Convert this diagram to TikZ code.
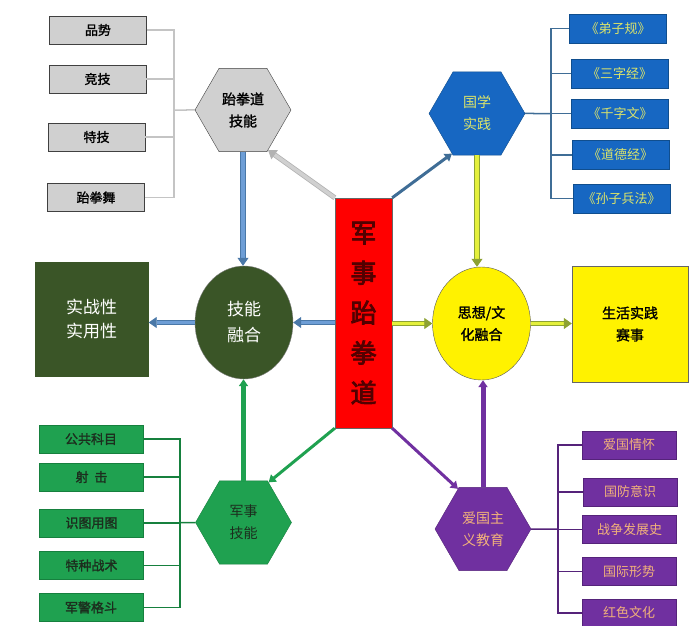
\documentclass[tikz,border=0pt]{standalone}
\usepackage{fontspec}
\setmainfont{Noto Sans CJK SC}[AutoFakeBold=1.6]
\newfontfamily\epais{Noto Sans CJK SC}[FakeBold=3]
\usetikzlibrary{shapes.geometric,arrows.meta}
\definecolor{grisboite}{HTML}{D0D0D0}
\definecolor{grislien}{HTML}{C4C4C4}
\definecolor{bleuhex}{HTML}{1767C2}
\definecolor{bleubord}{HTML}{104E8E}
\definecolor{bleutexte}{HTML}{DCE46A}
\definecolor{bleulien}{HTML}{3F6D96}
\definecolor{vertfonce}{HTML}{3A5527}
\definecolor{vert}{HTML}{1FA150}
\definecolor{vertbord}{HTML}{16803E}
\definecolor{verttexte}{HTML}{1C2E1E}
\definecolor{violet}{HTML}{7030A0}
\definecolor{violetbord}{HTML}{55237A}
\definecolor{violettexte}{HTML}{F2B27A}
\definecolor{acier}{HTML}{6E9ED6}
\definecolor{acierbord}{HTML}{4A78A8}
\definecolor{jaunefleche}{HTML}{E4F03C}
\definecolor{jaunebord}{HTML}{8DA232}
\definecolor{rougetexte}{HTML}{520000}
\begin{document}
\begin{tikzpicture}[x=1pt,y=-1pt]
			% Styles
			\tikzstyle{boiteGrise}=[draw=black!75, fill=grisboite, minimum width=97pt, minimum height=28pt, inner sep=0pt, font=\bfseries\fontsize{13}{15}\selectfont]
			\tikzstyle{boiteBleue}=[draw=bleubord, fill=bleuhex, text=bleutexte, minimum width=97pt, minimum height=29pt, inner sep=0pt, font=\fontsize{13}{15}\selectfont]
			\tikzstyle{boiteVerte}=[draw=vertbord, fill=vert, text=verttexte, minimum width=104pt, minimum height=28pt, inner sep=0pt, font=\bfseries\fontsize{13}{15}\selectfont]
			\tikzstyle{boiteViolette}=[draw=violetbord, fill=violet, text=violettexte, minimum width=94pt, minimum height=28pt, inner sep=0pt, font=\fontsize{13}{15}\selectfont]
			\tikzstyle{hexa}=[regular polygon, regular polygon sides=6, minimum size=96pt, inner sep=0pt, align=center, font=\fontsize{14}{22}\selectfont]
			\tikzstyle{rond}=[ellipse, minimum width=98pt, minimum height=113pt, inner sep=0pt, align=center]
			\tikzstyle{carre}=[minimum width=114pt, minimum height=115pt, inner sep=0pt, align=center]
			\tikzstyle{accolade}=[line width=1.5pt]
			\tikzstyle{flecheDouble}=[line width=0.8pt, double distance=3.5pt, -{Triangle[length=8pt,width=11pt]}]
			\tikzstyle{fleche}=[line width=3pt, -{Triangle[length=7pt,width=9pt]}]
			% Cadre
			\useasboundingbox (0,0) rectangle (696,626);
			% Noeuds
			\node[draw=black!60, fill=red, minimum width=57pt, minimum height=230pt, inner sep=0pt, align=center, text=rougetexte, font=\epais\fontsize{26}{40}\selectfont] (R) at (363.5,313) {军\\事\\跆\\拳\\道};
			%
			\node[hexa, draw=black!75, fill=grisboite, font=\bfseries\fontsize{14}{22}\selectfont] (A) at (243,110) {跆拳道\\技能};
			\node[boiteGrise] (Aa) at (98,30) {品势};
			\node[boiteGrise] (Ab) at (97.5,79) {竞技};
			\node[boiteGrise] (Ac) at (96.5,137) {特技};
			\node[boiteGrise] (Ad) at (96,197.5) {跆拳舞};
			%
			\node[hexa, draw=bleubord, fill=bleuhex, text=bleutexte] (B) at (477,113.5) {国学\\实践};
			\node[boiteBleue] (Ba) at (618,28.5) {《弟子规》};
			\node[boiteBleue] (Bb) at (619.5,73.5) {《三字经》};
			\node[boiteBleue] (Bc) at (620,113.5) {《千字文》};
			\node[boiteBleue] (Bd) at (620.5,155) {《道德经》};
			\node[boiteBleue] (Be) at (621.5,198.5) {《孙子兵法》};
			%
			\node[hexa, draw=vertbord, fill=vert, text=verttexte] (C) at (243.5,522.5) {军事\\技能};
			\node[boiteVerte] (Ca) at (91,439) {公共科目};
			\node[boiteVerte] (Cb) at (91.5,477) {射\ \ 击};
			\node[boiteVerte] (Cc) at (91.5,523) {识图用图};
			\node[boiteVerte] (Cd) at (91.5,565.5) {特种战术};
			\node[boiteVerte] (Ce) at (91,607.5) {军警格斗};
			%
			\node[hexa, draw=violetbord, fill=violet, text=violettexte] (D) at (483,529) {爱国主\\义教育};
			\node[boiteViolette] (Da) at (629,445) {爱国情怀};
			\node[boiteViolette] (Db) at (630,492) {国防意识};
			\node[boiteViolette] (Dc) at (629.5,529.5) {战争发展史};
			\node[boiteViolette] (Dd) at (629,571.5) {国际形势};
			\node[boiteViolette] (De) at (629,613) {红色文化};
			%
			\node[rond, draw=black!50, fill=vertfonce, text=white, font=\fontsize{17}{26}\selectfont] (F) at (244,322.5) {技能\\融合};
			\node[carre, fill=vertfonce, text=white, font=\fontsize{17}{24}\selectfont] (Fa) at (91.5,319.5) {实战性\\实用性};
			\node[rond, draw=black!65, fill=yellow, font=\bfseries\fontsize{14}{22}\selectfont] (G) at (481.5,323.5) {思想/文\\化融合};
			\node[carre, draw=black!60, fill=yellow, minimum width=116pt, minimum height=116pt, font=\bfseries\fontsize{14}{22}\selectfont] (Ga) at (630,324) {生活实践\\赛事};
			% Accolades
			\coordinate (jA) at (174,110);
			\draw[accolade, grislien] (A.west) -- (jA);
			\draw[accolade, grislien] (Aa.east) -| (jA);
			\draw[accolade, grislien] (Ab.east) -| (jA);
			\draw[accolade, grislien] (Ac.east) -| (jA);
			\draw[accolade, grislien] (Ad.east) -| (jA);
			\coordinate (jB) at (551,113.5);
			\draw[accolade, bleulien] (B.east) -- (jB);
			\draw[accolade, bleulien] (Ba.west) -| (jB);
			\draw[accolade, bleulien] (Bb.west) -| (jB);
			\draw[accolade, bleulien] (Bc.west) -| (jB);
			\draw[accolade, bleulien] (Bd.west) -| (jB);
			\draw[accolade, bleulien] (Be.west) -| (jB);
			\coordinate (jC) at (180,522.5);
			\draw[accolade, vertbord] (C.west) -- (jC);
			\draw[accolade, vertbord] (Ca.east) -| (jC);
			\draw[accolade, vertbord] (Cb.east) -| (jC);
			\draw[accolade, vertbord] (Cc.east) -| (jC);
			\draw[accolade, vertbord] (Cd.east) -| (jC);
			\draw[accolade, vertbord] (Ce.east) -| (jC);
			\coordinate (jD) at (558,529);
			\draw[accolade, violetbord] (D.east) -- (jD);
			\draw[accolade, violetbord] (Da.west) -| (jD);
			\draw[accolade, violetbord] (Db.west) -| (jD);
			\draw[accolade, violetbord] (Dc.west) -| (jD);
			\draw[accolade, violetbord] (Dd.west) -| (jD);
			\draw[accolade, violetbord] (De.west) -| (jD);
			% Arcs
			\draw[flecheDouble, draw=black!30, double=grisboite] (R.north west) -- (A.-58);
			\draw[fleche, draw=bleulien] (R.north east) -- (B.-122);
			\draw[fleche, draw=vert] (R.south west) -- (C.58);
			\draw[fleche, draw=violet] (R.south east) -- (D.122);
			\draw[flecheDouble, draw=acierbord, double=acier] (A.south) -- (A.south |- F.north);
			\draw[flecheDouble, draw=jaunebord, double=jaunefleche] (B.south) -- (B.south |- G.north);
			\draw[fleche, line width=5pt, draw=vert] (C.north) -- (C.north |- F.south);
			\draw[fleche, line width=5pt, draw=violet] (D.north) -- (D.north |- G.south);
			\draw[flecheDouble, draw=acierbord, double=acier] (R.west |- F.east) -- (F.east);
			\draw[flecheDouble, draw=acierbord, double=acier] (F.west) -- (F.west -| Fa.east);
			\draw[flecheDouble, draw=jaunebord, double=jaunefleche] (R.east |- G.west) -- (G.west);
			\draw[flecheDouble, draw=jaunebord, double=jaunefleche] (G.east) -- (G.east -| Ga.west);
\end{tikzpicture}
\end{document}
